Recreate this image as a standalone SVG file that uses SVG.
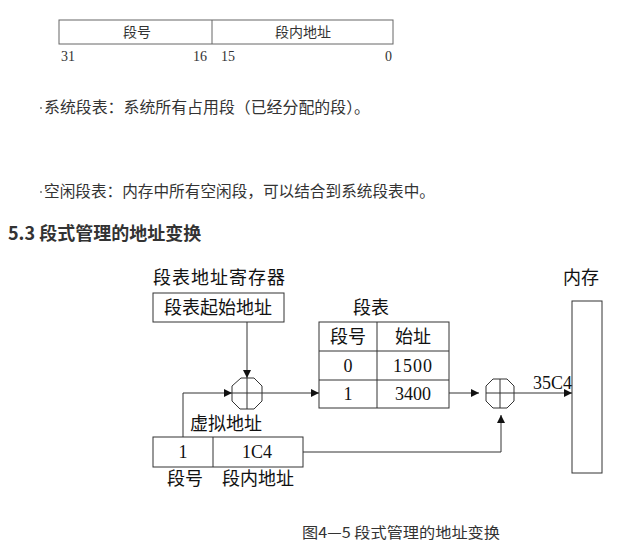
<svg xmlns="http://www.w3.org/2000/svg" width="635" height="558" viewBox="0 0 635 558">
<defs>
<style>
.t{font-family:"Noto Sans CJK SC","Liberation Sans",sans-serif;fill:#333}
.d{font-family:"Liberation Serif","Noto Sans CJK SC",serif;fill:#111;font-size:18px}
.box{fill:#fff;stroke:#333;stroke-width:1}
.ln{fill:none;stroke:#333;stroke-width:1}
.g{font-family:"Liberation Serif","Noto Sans CJK SC",serif;fill:#333;font-size:14px}
</style>
<marker id="ah" viewBox="0 0 10 10" refX="10" refY="5" markerWidth="8" markerHeight="8" markerUnits="userSpaceOnUse" orient="auto">
<path d="M0,0 L10,5 L0,10 Z" fill="#111"/>
</marker>
</defs>
<rect width="635" height="558" fill="#fff"/>

<g id="format">
<rect x="59" y="20" width="334" height="24" fill="#fff" stroke="#666"/>
<line x1="212" y1="20" x2="212" y2="44" stroke="#666"/>
<text class="g" x="137" y="37" text-anchor="middle" fill="#555">段号</text>
<text class="g" x="303" y="37" text-anchor="middle">段内地址</text>
<text class="g" x="61" y="61">31</text>
<text class="g" x="207" y="61" text-anchor="end">16</text>
<text class="g" x="221" y="61">15</text>
<text class="g" x="392" y="61" text-anchor="end">0</text>
</g>

<g id="bullets">
<circle cx="41" cy="108" r="0.9" fill="#666"/>
<text class="t" x="44" y="113" font-size="15.5" textLength="326" lengthAdjust="spacingAndGlyphs">系统段表：系统所有占用段（已经分配的段）。</text>
<circle cx="41" cy="192" r="0.9" fill="#666"/>
<text class="t" x="44" y="197" font-size="15.5" textLength="391" lengthAdjust="spacingAndGlyphs">空闲段表：内存中所有空闲段，可以结合到系统段表中。</text>
<text class="t" x="8" y="240" font-size="18" font-weight="bold">5.3 段式管理的地址变换</text>
</g>

<g id="register">
<text class="d" x="153" y="284" font-size="19" textLength="132" lengthAdjust="spacing">段表地址寄存器</text>
<rect class="box" x="153" y="293" width="131" height="29"/>
<text class="d" x="218" y="314" text-anchor="middle">段表起始地址</text>
</g>

<g id="segtable">
<text class="d" x="353" y="314">段表</text>
<rect class="box" x="319" y="322" width="130" height="86"/>
<line class="ln" x1="377" y1="322" x2="377" y2="408"/>
<line class="ln" x1="319" y1="351" x2="449" y2="351"/>
<line class="ln" x1="319" y1="380" x2="449" y2="380"/>
<text class="d" x="348" y="343" text-anchor="middle">段号</text>
<text class="d" x="413" y="343" text-anchor="middle">始址</text>
<text class="d" x="348" y="372" text-anchor="middle">0</text>
<text class="d" x="413" y="372" text-anchor="middle" letter-spacing="1">1500</text>
<text class="d" x="348" y="400" text-anchor="middle">1</text>
<text class="d" x="413" y="400" text-anchor="middle">3400</text>
</g>

<g id="adder1">
<path class="ln" d="M241,378 L254,378 L262,386 L262,401 L254,409 L240,409 L232,401 L232,386 Z" fill="#fff"/>
<line class="ln" x1="232" y1="393" x2="262" y2="393" stroke-width="1.5"/>
<line class="ln" x1="247" y1="378" x2="247" y2="409" stroke-width="1.5"/>
</g>

<g id="adder2">
<path class="ln" d="M493,379 L507,379 L514,386 L514,401 L507,408 L493,408 L486,401 L486,386 Z" fill="#fff"/>
<line class="ln" x1="486" y1="393" x2="514" y2="393" stroke-width="1.5"/>
<line class="ln" x1="500" y1="379" x2="500" y2="408" stroke-width="1.5"/>
</g>

<g id="vaddr">
<text class="d" x="190" y="430">虚拟地址</text>
<rect class="box" x="153" y="437" width="150" height="30"/>
<line class="ln" x1="213" y1="437" x2="213" y2="467"/>
<text class="d" x="183" y="458" text-anchor="middle">1</text>
<text class="d" x="257" y="458" text-anchor="middle">1C4</text>
<text class="d" x="167" y="485">段号</text>
<text class="d" x="222" y="485">段内地址</text>
</g>

<g id="memory">
<text class="d" x="563" y="284">内存</text>
<rect class="box" x="572" y="301" width="30" height="172" stroke="#555"/>
<text class="d" x="533" y="389" font-size="17">35C4</text>
</g>

<g id="connectors">
<line class="ln" x1="247" y1="322" x2="247" y2="378" marker-end="url(#ah)"/>
<polyline class="ln" points="183,437 183,393 232,393" marker-end="url(#ah)"/>
<line class="ln" x1="262" y1="393" x2="319" y2="393" marker-end="url(#ah)"/>
<line class="ln" x1="449" y1="393" x2="479" y2="393" marker-end="url(#ah)"/>
<line class="ln" x1="514" y1="393" x2="572" y2="393" marker-end="url(#ah)"/>
<polyline class="ln" points="303,452 501,452 501,415" marker-end="url(#ah)"/>
</g>

<g id="caption">
<text class="t" x="302" y="538" font-size="15" fill="#555" textLength="198" lengthAdjust="spacingAndGlyphs">图4—5 段式管理的地址变换</text>
</g>
</svg>
